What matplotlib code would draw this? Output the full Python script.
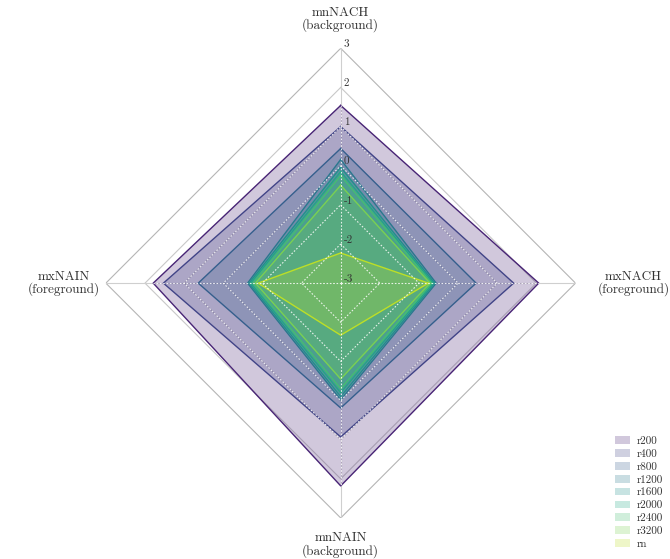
import numpy as np
import matplotlib.pyplot as plt

plt.rcParams['font.family'] = ['cmr10', 'DejaVu Serif']
plt.rcParams['axes.unicode_minus'] = False

# Achsen (im Uhrzeigersinn, oben beginnend)
axis_names = ['mnNACH\n(background)', 'mxNACH\n(foreground)',
              'mnNAIN\n(background)', 'mxNAIN\n(foreground)']
series = ['r200', 'r400', 'r800', 'r1200', 'r1600', 'r2000', 'r2400', 'r3200', 'rn']

# Werte je Achse, Reihenfolge wie series
mnNACH = [1.54, 1.00, 0.44, 0.16, -0.04, -0.15, -0.25, -0.50, -2.23]
mxNACH = [2.06, 1.42, 0.46, -0.56, -0.60, -0.64, -0.68, -0.72, -0.76]
mnNAIN = [2.18, 0.93, 0.19, -0.02, -0.10, -0.20, -0.30, -0.55, -1.67]
mxNAIN = [1.79, 1.53, 0.64, -0.62, -0.66, -0.70, -0.76, -0.82, -0.89]

levels = [-2, -1, 0, 1, 2, 3]
rlabels = ['3', '2', '1', '0', '-1', '-2', '-3']

data = np.array([mnNACH, mxNACH, mnNAIN, mxNAIN]).T
n = len(axis_names)
theta = np.arange(n) * 2 * np.pi / n
theta_c = np.append(theta, theta[0])
# viridis wie seaborn-Palette (ohne Randfarben)
colors = plt.cm.viridis(np.linspace(0, 1, len(series) + 2)[1:-1])

fig = plt.figure(figsize=(6.7, 5.59), dpi=100)
ax = fig.add_axes([0.158, 0.073, 0.701, 0.841], projection='polar')
ax.set_theta_offset(np.pi / 2)
ax.set_theta_direction(-1)
ax.set_ylim(-3, 3)
ax.grid(False)
ax.spines['polar'].set_visible(False)
ax.set_xticks([])
ax.set_yticks([])

dots = dict(color='white', lw=0.8, ls=(0, (1.5, 1.5)), alpha=0.85, zorder=5)

# Gitter: grau darunter, weiss gepunktet ueber den Flaechen
for lv in levels:
    ax.plot(theta_c, [lv] * (n + 1), color='#b5b5b5' if lv == 3 else '#c8c8c8',
            lw=0.8, zorder=0)
    if lv <= 1:
        ax.plot(theta_c, [lv] * (n + 1), **dots)
for k, t in enumerate(theta):
    ax.plot([t, t], [-3, 3], color='#cfcfcf', lw=0.8, zorder=0)
    ax.plot([t, t], [-3, data[:, k].max()], **dots)

for i, name in enumerate(series):
    vals = np.append(data[i], data[i][0])
    ax.fill(theta_c, vals, color=colors[i], alpha=0.25, lw=0, label=name, zorder=2)
    ax.plot(theta_c, vals, color=colors[i], lw=1, zorder=3)

# r-Beschriftung entlang der oberen Achse
for lab in rlabels:
    ax.annotate(lab, xy=(0, float(lab)), xytext=(3, 4), textcoords='offset pixels',
                ha='left', va='center', fontsize=8, color='#333333', zorder=6)

offsets = [(0, 29), (58, 0), (0, -27), (-42, 0)]
for t, name, off in zip(theta, axis_names, offsets):
    ax.annotate(name, xy=(t, 3), xytext=off, textcoords='offset pixels',
                ha='center', va='center', fontsize=9.5, color='#333333',
                linespacing=0.95)

leg = fig.legend(loc='lower right', bbox_to_anchor=(1.005, 0.0), frameon=False,
                 fontsize=8, handlelength=1.4, handleheight=0.7,
                 labelspacing=0.28, handletextpad=0.6)
for t in leg.get_texts():
    t.set_color('#333333')

plt.savefig('out.png', dpi=100)
